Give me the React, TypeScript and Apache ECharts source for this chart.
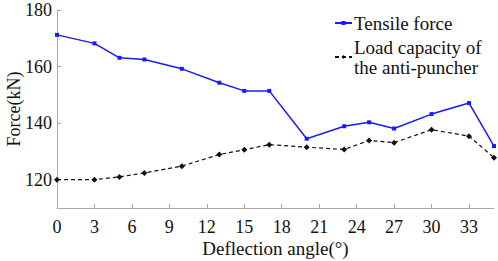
import React, { useEffect, useRef } from "react";
import * as echarts from "echarts";

const angles = [0, 3, 5, 7, 10, 13, 15, 17, 20, 23, 25, 27, 30, 33, 35];
const tensileForce = [171.2, 168.2, 163.1, 162.5, 159.2, 154.3, 151.4, 151.4, 134.5, 138.9, 140.3, 138.1, 143.2, 147.1, 131.9];
const loadCapacity = [120.0, 120.0, 121.0, 122.4, 124.8, 128.9, 130.6, 132.4, 131.5, 130.7, 133.9, 133.1, 137.7, 135.4, 127.8];
const yTicks = [120, 140, 160, 180];
const xTicks = [0, 3, 6, 9, 12, 15, 18, 21, 24, 27, 30, 33];
const seriesNames = ["Tensile force", "Load capacity of\nthe anti-puncher"];

const FONT = "Liberation Serif";

export default function App() {
  const ref = useRef<HTMLDivElement>(null);
  useEffect(() => {
    if (!ref.current) return;
    const chart = echarts.init(ref.current, null, { renderer: "svg" });
    const axisLine = { show: true, lineStyle: { color: "#aaaaaa", width: 1 } };
    chart.setOption({
      animation: false,
      backgroundColor: "#ffffff",
      textStyle: { fontFamily: FONT },
      grid: { left: 57, right: 4, top: 10, bottom: 53, containLabel: false, outerBoundsMode: "none" },
      legend: {
        orient: "vertical",
        left: 329,
        top: 8,
        itemWidth: 17,
        itemHeight: 5,
        itemGap: 4,
        textStyle: { fontFamily: FONT, fontSize: 19, color: "#111", lineHeight: 20, padding: [0, 0, 0, -3] },
        data: seriesNames,
      },
      xAxis: {
        type: "value",
        min: 0,
        max: 35,
        interval: 3,
        name: "Deflection angle(°)",
        nameLocation: "middle",
        nameGap: 31,
        nameMoveOverlap: false,
        nameTextStyle: { fontFamily: FONT, fontSize: 19, color: "#111" },
        axisLine,
        axisTick: { show: true, inside: true, length: 4, customValues: xTicks, lineStyle: { color: "#aaaaaa" } },
        axisLabel: { fontFamily: FONT, fontSize: 18, color: "#111", margin: 10, customValues: xTicks },
        splitLine: { show: false },
      },
      yAxis: {
        type: "value",
        min: 110,
        max: 180,
        name: "Force(kN)",
        nameLocation: "middle",
        nameGap: 34,
        nameMoveOverlap: false,
        nameTextStyle: { fontFamily: FONT, fontSize: 18, color: "#111" },
        axisLine,
        axisTick: { show: true, inside: true, length: 4, customValues: yTicks, lineStyle: { color: "#aaaaaa" } },
        axisLabel: { fontFamily: FONT, fontSize: 18, color: "#111", margin: 5, customValues: yTicks },
        splitLine: { show: false },
      },
      series: [
        {
          name: seriesNames[0],
          type: "line",
          data: angles.map((a, i) => [a, tensileForce[i]]),
          symbol: "rect",
          symbolSize: 4,
          itemStyle: { color: "#1a1aff" },
          lineStyle: { color: "#1a1aff", width: 1.5 },
        },
        {
          name: seriesNames[1],
          type: "line",
          data: angles.map((a, i) => [a, loadCapacity[i]]),
          symbol: "diamond",
          symbolSize: 6,
          itemStyle: { color: "#111" },
          lineStyle: { color: "#111", width: 1.2, type: [4, 3] },
        },
      ],
    });
    return () => chart.dispose();
  }, []);
  return <div ref={ref} style={{ position: "absolute", left: 0, top: 0, width: 498, height: 261 }} />;
}
